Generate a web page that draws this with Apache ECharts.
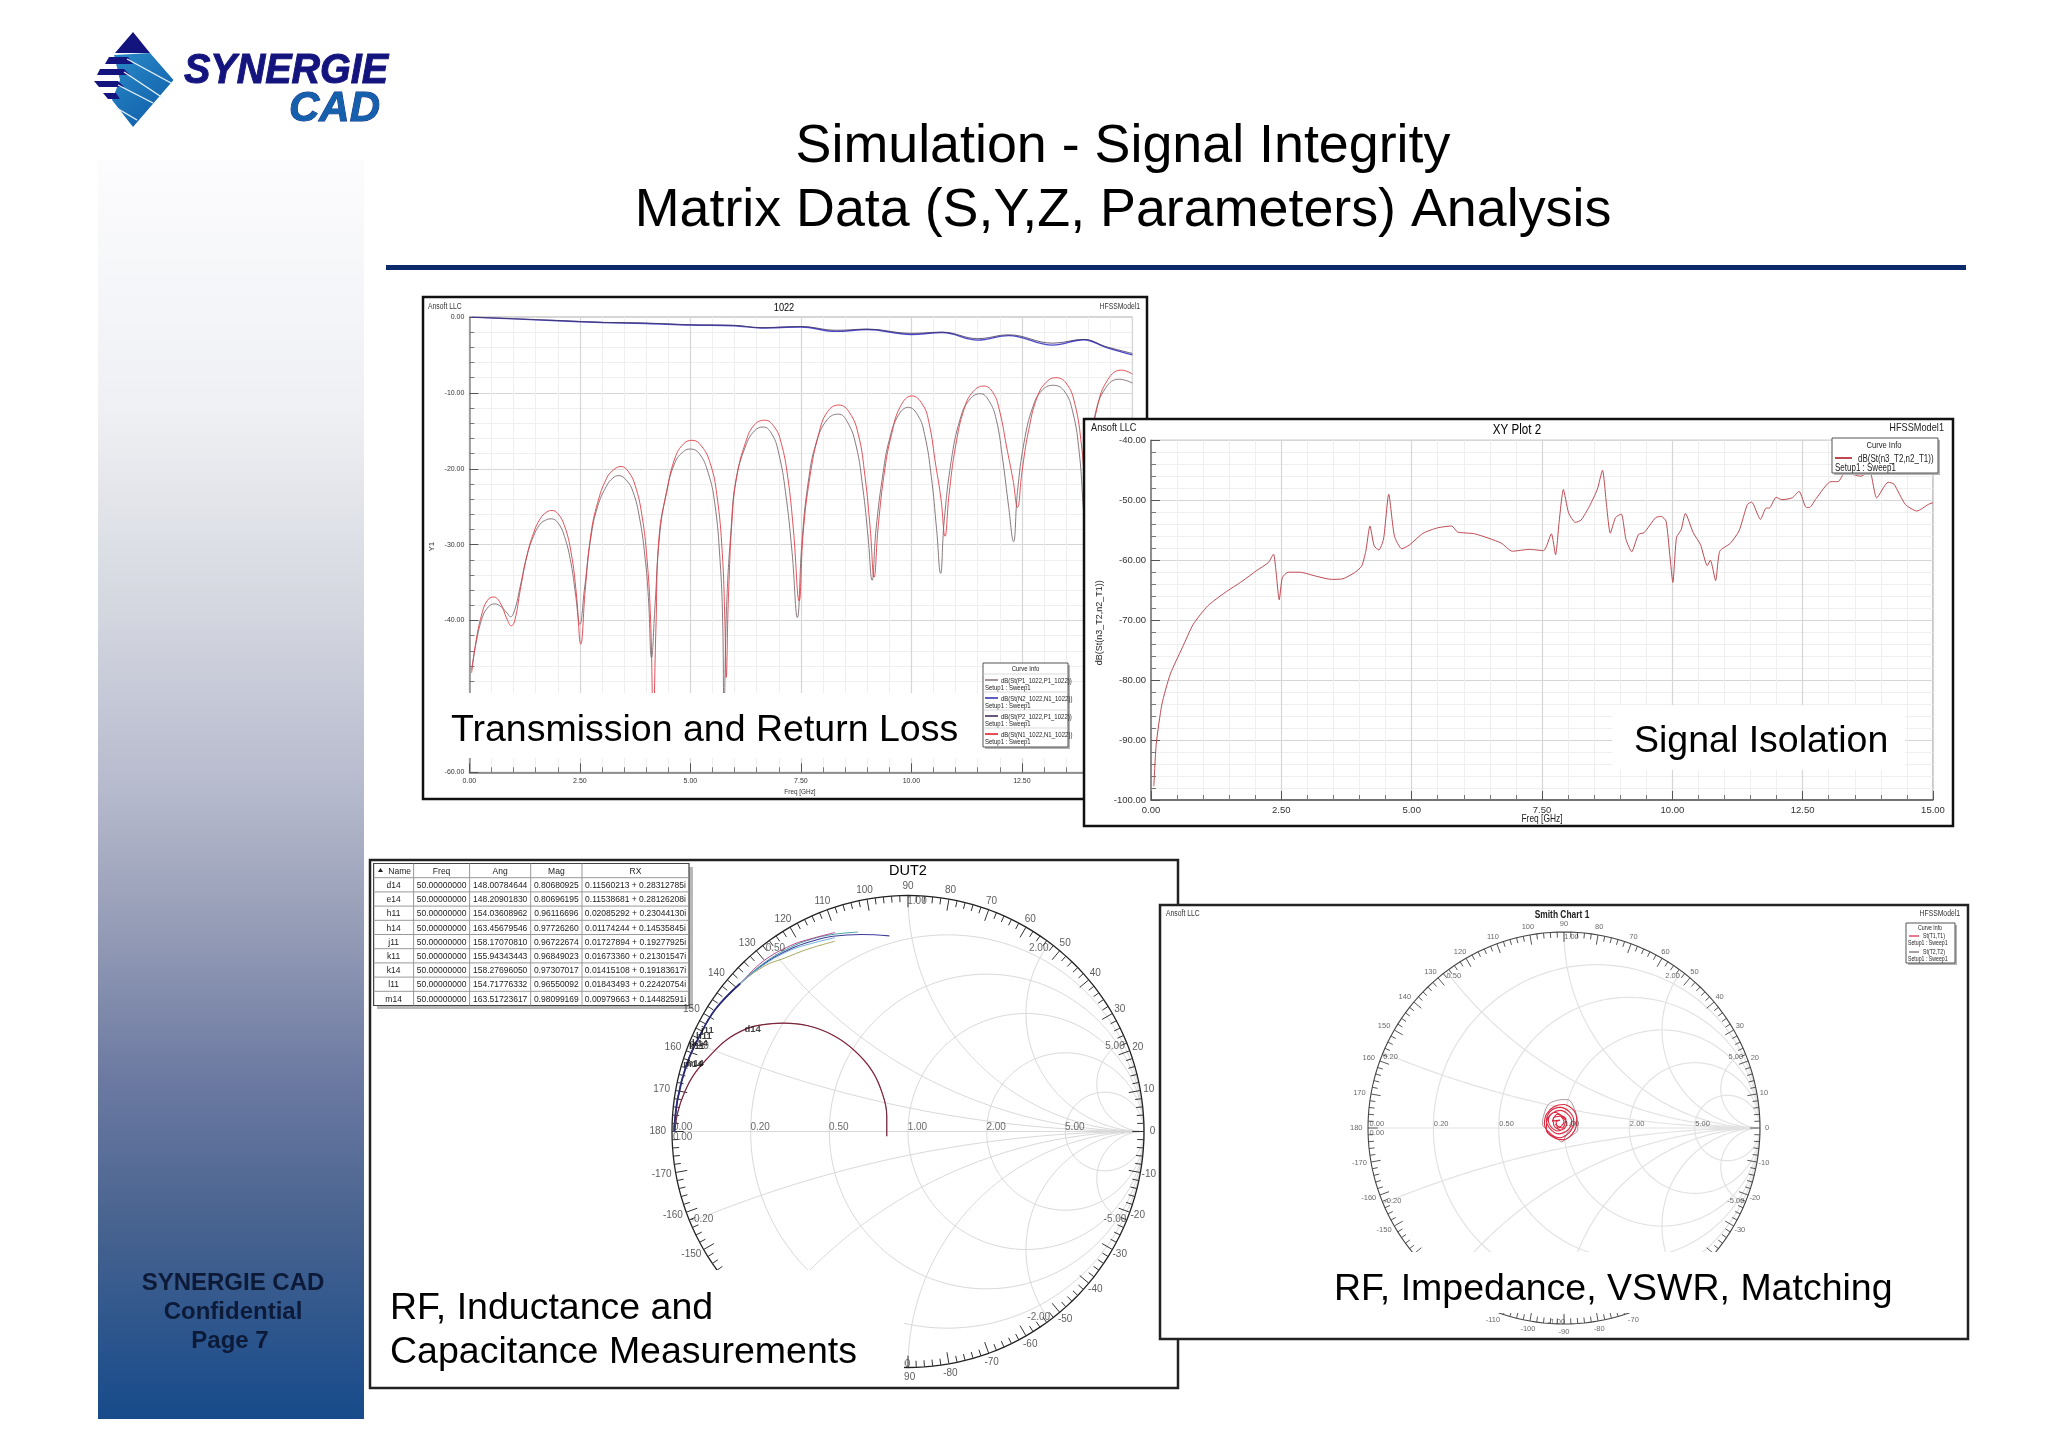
<!DOCTYPE html>
<html>
<head>
<meta charset="utf-8">
<title>Simulation - Signal Integrity</title>
<style>
  html, body { margin: 0; padding: 0; background: #fff; }
  #page { width: 2048px; height: 1448px; }
</style>
<script src="https://cdn.jsdelivr.net/npm/echarts@6/dist/echarts.min.js"></script>
</head>
<body>
<div id="page"></div>
<script>
const SANS = '"Liberation Sans", Arial, sans-serif';

// ---- plot 1: transmission and return loss, [GHz, dB]
const returnLossGrey = [[0.05,-46.5],[0.15,-43],[0.27,-40],[0.4,-38.4],[0.57,-37.8],[0.72,-38.2],[0.85,-39],[0.93,-39.5],[1.02,-38.7],[1.15,-35.5],[1.3,-31.5],[1.45,-28.9],[1.6,-27.3],[1.75,-26.7],[1.85,-26.6],[2,-27.1],[2.15,-28.9],[2.3,-32.5],[2.4,-36.5],[2.5,-40.5],[2.6,-36],[2.75,-29],[2.9,-25],[3.1,-22.3],[3.25,-21.2],[3.38,-20.9],[3.55,-21.5],[3.7,-23],[3.85,-26.5],[3.97,-31.5],[4.05,-37],[4.12,-44.9],[4.2,-38],[4.3,-29],[4.45,-23.3],[4.65,-19.2],[4.85,-17.7],[5,-17.4],[5.2,-18],[5.4,-20.5],[5.55,-24.5],[5.67,-32],[5.73,-40],[5.76,-52],[5.82,-38],[5.92,-28],[6.03,-21.5],[6.25,-17],[6.45,-15],[6.65,-14.5],[6.85,-15.5],[7,-18],[7.15,-23],[7.3,-31],[7.42,-39.6],[7.52,-30],[7.66,-22],[7.85,-16.5],[8.1,-13.5],[8.35,-12.8],[8.55,-13.8],[8.75,-17],[8.9,-22.5],[9.02,-29],[9.11,-34.7],[9.2,-28],[9.36,-20.5],[9.5,-16.2],[9.7,-13],[9.93,-11.9],[10.15,-13],[10.3,-15.5],[10.45,-21],[10.57,-28],[10.66,-33.8],[10.74,-27],[10.9,-19],[11.1,-13.5],[11.3,-11],[11.56,-10.1],[11.75,-11],[11.92,-13.5],[12.07,-19],[12.2,-25],[12.31,-29.6],[12.4,-23],[12.55,-16.5],[12.75,-11.8],[12.95,-9.7],[13.2,-9],[13.45,-9.7],[13.65,-12.5],[13.8,-18],[13.92,-26],[14,-19],[14.15,-13],[14.4,-9.3],[14.7,-8.2],[15,-8.7]];
const returnLossRed = [[0.05,-46.9],[0.15,-42.7],[0.27,-39.4],[0.4,-37.4],[0.55,-36.9],[0.7,-37.7],[0.85,-39.8],[0.95,-40.7],[1.03,-39.9],[1.15,-36],[1.3,-31.5],[1.45,-28.5],[1.6,-26.6],[1.75,-25.7],[1.87,-25.5],[2,-25.9],[2.15,-27.5],[2.3,-31],[2.42,-36.5],[2.52,-43.1],[2.62,-36],[2.75,-28.6],[2.9,-24.5],[3.1,-21.3],[3.25,-20.2],[3.43,-19.7],[3.6,-20.4],[3.75,-22.2],[3.9,-26],[4.02,-32],[4.1,-40],[4.16,-53],[4.22,-41],[4.29,-29],[4.47,-22.9],[4.65,-18.6],[4.85,-16.7],[5.04,-16.25],[5.25,-17],[5.45,-19.3],[5.6,-23.5],[5.72,-31],[5.78,-40],[5.81,-47.5],[5.86,-37],[5.95,-26],[6.05,-21],[6.25,-16.5],[6.45,-14.2],[6.69,-13.6],[6.9,-14.5],[7.05,-16.5],[7.2,-21],[7.33,-28],[7.46,-37.4],[7.55,-28.6],[7.7,-21.2],[7.9,-15.5],[8.1,-12.5],[8.36,-11.6],[8.6,-12.6],[8.8,-15.5],[8.95,-21],[9.07,-28],[9.155,-34.3],[9.25,-27.5],[9.4,-20],[9.55,-15.5],[9.75,-11.8],[10.01,-10.4],[10.25,-11.5],[10.4,-14],[10.55,-19.5],[10.67,-24],[10.76,-28.9],[10.85,-23.5],[11,-17],[11.2,-12],[11.4,-9.8],[11.64,-9.1],[11.85,-10],[12,-12.5],[12.15,-17],[12.3,-21.5],[12.4,-25.1],[12.5,-20.5],[12.65,-15],[12.85,-10.5],[13.05,-8.6],[13.26,-8],[13.5,-8.7],[13.7,-11.5],[13.85,-17],[13.97,-24.5],[14.05,-18],[14.2,-12],[14.45,-8.2],[14.75,-7],[15,-7.5]];
const transBlue = [[0.05,-0.02],[1,-0.25],[2,-0.5],[3,-0.72],[4,-0.85],[5,-1.05],[6,-1.15],[6.6,-1.45],[7.5,-1.32],[8.3,-1.9],[9,-1.65],[10,-2.3],[10.7,-2.05],[11.5,-3.05],[12.2,-2.45],[13.2,-3.7],[13.9,-3],[14.4,-4],[15,-5]];
const transDark = [[0.05,-0.02],[1,-0.22],[2,-0.46],[3,-0.7],[4,-0.8],[5,-1.02],[6,-1.1],[6.6,-1.4],[7.5,-1.25],[8.3,-1.75],[9,-1.6],[10,-2.15],[10.7,-2],[11.5,-2.85],[12.2,-2.35],[13.2,-3.45],[13.9,-2.95],[14.4,-3.9],[15,-4.8]];
const curveInfo1 = ['dB(St(P1_1022,P1_1022))', 'dB(St(N2_1022,N1_1022))', 'dB(St(P2_1022,P1_1022))', 'dB(St(N1_1022,N1_1022))'];
const curveColors1 = ['#8a7a7e', '#3434b4', '#40305a', '#e0202c'];

// ---- plot 2: signal isolation, [GHz, dB]
const isolation = [[0.055,-97.7],[0.1,-90.7],[0.21,-84],[0.37,-79],[0.6,-74.6],[0.81,-70.7],[1.09,-67.6],[1.42,-65.4],[1.75,-63.5],[2.03,-61.7],[2.25,-60.4],[2.35,-59],[2.39,-61.2],[2.46,-66.6],[2.52,-62.9],[2.63,-62],[2.85,-62],[3.18,-62.7],[3.46,-63.2],[3.68,-63.1],[3.9,-62.1],[4.04,-61],[4.12,-58.5],[4.2,-54.3],[4.28,-57.6],[4.37,-58.3],[4.46,-56.5],[4.56,-49],[4.67,-56],[4.81,-58.1],[4.95,-57.5],[5.22,-55.5],[5.5,-54.6],[5.77,-54.3],[5.88,-55.3],[6.21,-55.6],[6.71,-57.1],[6.93,-58.5],[7.26,-58.2],[7.53,-58.4],[7.68,-55.6],[7.76,-59.1],[7.83,-53.5],[7.91,-48.2],[8.01,-52.1],[8.14,-53.7],[8.25,-53.3],[8.41,-51],[8.56,-48.2],[8.66,-45],[8.74,-51],[8.81,-55.5],[8.91,-52.9],[9.02,-52.3],[9.11,-56.5],[9.22,-58.6],[9.35,-55.7],[9.46,-55.4],[9.68,-52.9],[9.79,-52.7],[9.88,-53.5],[9.95,-59],[10.01,-63.7],[10.08,-56.2],[10.17,-54.9],[10.25,-52.2],[10.4,-55.4],[10.54,-57.4],[10.67,-60.9],[10.73,-60],[10.83,-63.4],[10.91,-58.5],[11.11,-57.2],[11.28,-55.1],[11.44,-50.7],[11.52,-50.3],[11.69,-53.2],[11.8,-51.3],[11.86,-51.3],[11.99,-49.5],[12.1,-49.9],[12.3,-49.6],[12.43,-48.5],[12.57,-51.2],[12.63,-51.2],[12.76,-49.7],[13.04,-46.9],[13.18,-46.9],[13.31,-45.4],[13.62,-46],[13.78,-45],[13.92,-49.6],[14.14,-47],[14.25,-47.3],[14.47,-50.7],[14.69,-51.8],[14.91,-50.7],[15,-50.4]];

// ---- plot 3: DUT2 table
const tableHeader = ['Name', 'Freq', 'Ang', 'Mag', 'RX'];
const tableNames = ['d14', 'e14', 'h11', 'h14', 'j11', 'k11', 'k14', 'l11', 'm14'];
const tableFreq = ['50.00000000', '50.00000000', '50.00000000', '50.00000000', '50.00000000', '50.00000000', '50.00000000', '50.00000000', '50.00000000'];
const tableAng = ['148.00784644', '148.20901830', '154.03608962', '163.45679546', '158.17070810', '155.94343443', '158.27696050', '154.71776332', '163.51723617'];
const tableMag = ['0.80680925', '0.80696195', '0.96116696', '0.97726260', '0.96722674', '0.96849023', '0.97307017', '0.96550092', '0.98099169'];
const tableRx = ['0.11560213 + 0.28312785i', '0.11538681 + 0.28126208i', '0.02085292 + 0.23044130i', '0.01174244 + 0.14535845i', '0.01727894 + 0.19277925i', '0.01673360 + 0.21301547i', '0.01415108 + 0.19183617i', '0.01843493 + 0.22420754i', '0.00979663 + 0.14482591i'];

// ---- plot 3: traces, reflection coefficient [re, im]
const traceInner = [[-0.09,-0.02],[-0.09,0.066],[-0.106,0.153],[-0.151,0.255],[-0.227,0.343],[-0.318,0.408],[-0.424,0.448],[-0.53,0.459],[-0.62,0.452],[-0.688,0.434],[-0.772,0.386],[-0.847,0.313],[-0.908,0.24],[-0.946,0.168],[-0.976,0.08],[-0.988,0]];
const traceEdge = [[-0.991,0],[-0.976,0.138],[-0.938,0.284],[-0.885,0.401],[-0.817,0.517],[-0.711,0.627]];
const traceBlueTail = [[-0.605,0.714],[-0.499,0.773],[-0.408,0.806],[-0.318,0.827],[-0.197,0.835],[-0.079,0.829]];
const traceTealTail = [[-0.605,0.718],[-0.499,0.78],[-0.408,0.815],[-0.318,0.835],[-0.212,0.845]];
const traceMagentaTail = [[-0.613,0.722],[-0.499,0.787],[-0.424,0.813],[-0.31,0.843]];
const traceOliveTail = [[-0.605,0.703],[-0.53,0.732],[-0.424,0.773],[-0.31,0.806]];
const traceSkyTail = [[-0.605,0.71],[-0.499,0.768],[-0.408,0.797],[-0.31,0.821]];
const traceMarkers = [['d14',-0.658,0.434],['j11',-0.85,0.43],['h11',-0.865,0.402],['k14',-0.882,0.375],['k11',-0.895,0.36],['h14',-0.9,0.29],['m14',-0.912,0.285]];

// ---- plot 4: matching blob, reflection coefficient [re, im]
const matchRed = [[0.005,0],[-0.03,-0.015],[-0.065,0.005],[-0.08,0.04],[-0.06,0.075],[-0.02,0.09],[0.02,0.07],[0.04,0.03],[0.02,-0.01],[-0.03,-0.03],[-0.07,-0.005],[-0.09,0.04],[-0.07,0.085],[-0.02,0.105],[0.03,0.08],[0.05,0.035],[0.03,-0.02],[-0.02,-0.05],[-0.07,-0.03],[-0.1,0.02],[-0.09,0.07],[-0.05,0.11],[0,0.12],[0.05,0.09],[0.065,0.04],[0.05,-0.02],[0,-0.06],[-0.05,-0.05],[-0.09,-0.01],[-0.085,0.045],[-0.05,0.08],[-0.01,0.06],[0.015,0.02],[-0.015,-0.01],[-0.05,0.01],[-0.055,0.05],[-0.02,0.06],[0,0.03],[-0.03,0],[-0.04,0.03],[-0.02,0.04],[-0.06,0.035],[-0.035,0.07],[0.01,0.045],[-0.01,0],[-0.045,0.02]];
const matchDark = [[-0.012,-0.071],[0.03,-0.045],[0.07,-0.01],[0.07,0.03],[0.06,0.08],[0.03,0.14],[0,0.145],[-0.04,0.14],[-0.08,0.12],[-0.105,0.06],[-0.11,0.02],[-0.075,-0.02],[-0.04,-0.05],[-0.012,-0.071],[0.02,-0.02],[0.05,0.01],[0.06,0.03],[0.04,0.035],[0.03,0.01],[0.055,0.005]];

// smith chart grid
const smithCircles = [0.2, 0.5, 1, 2, 5];
const angleLabels = [0, 10, 20, 30, 40, 50, 60, 70, 80, 90, 100, 110, 120, 130, 140, 150, 160, 170, 180, -170, -160, -150, -140, -130, -120, -110, -100, -90, -80, -70, -60, -50, -40, -30, -20, -10];

// ---------- helpers for page furniture ----------
const els = [];
function text(x, y, s, size, opt) {
  opt = opt || {};
  const narrow = opt.narrow ? 0.8 : 1;
  els.push({
    type: 'text', x: x, y: y + size * 0.09, z: opt.z || 0, rotation: opt.rotation || 0, silent: true,
    scaleX: (opt.scaleX || 1) * narrow,
    style: {
      text: s, fill: opt.color || '#000', align: opt.align || 'left', verticalAlign: 'middle',
      stroke: opt.stroke || null, lineWidth: opt.stroke ? 1 : 0,
      font: (opt.style || '') + ' ' + (opt.weight || 'normal') + ' ' + size + 'px ' + SANS
    }
  });
}
function rect(x, y, w, h, fill, z, stroke, lw) {
  els.push({ type: 'rect', z: z || 0, silent: true, shape: { x: x, y: y, width: w, height: h },
    style: { fill: fill, stroke: stroke || null, lineWidth: lw || 0 } });
}
function seg(x1, y1, x2, y2, color, lw, z) {
  els.push({ type: 'line', z: z || 0, silent: true, shape: { x1: x1, y1: y1, x2: x2, y2: y2 }, style: { stroke: color, lineWidth: lw } });
}
function poly(points, fill, z) {
  els.push({ type: 'polygon', z: z || 0, silent: true, shape: { points: points }, style: { fill: fill } });
}

// logo
const logoBlue = new echarts.graphic.LinearGradient(0, 0, 1, 1, [{ offset: 0, color: '#2a8ac8' }, { offset: 1, color: '#0d5aa6' }]);
poly([[114,55],[150,53],[173.5,80],[133,127],[112,100],[120,80]], logoBlue);
poly([[133,32],[150,53],[115,53]], '#14147e');
poly([[109,57],[128,57],[133,64],[105,64]], '#14147e');
poly([[100,69],[124,69],[130,75],[97,75]], '#14147e');
poly([[94,81],[118,81],[124,87],[99,87]], '#14147e');
poly([[103,93],[116,93],[120,99],[108,99]], '#14147e');
[[127,59,171,83],[124,72,163,98],[118,85,153,103],[115,107,137,120]].forEach(l => seg(l[0], l[1], l[2], l[3], '#e8f2fa', 1.4));
text(184, 68, 'SYNERGIE', 42, { weight: 'bold', style: 'italic', color: '#14147e', stroke: '#14147e', scaleX: 0.94 });
text(289, 106, 'CAD', 42, { weight: 'bold', style: 'italic', color: '#1460ac', stroke: '#14308a' });

// sidebar
rect(98, 160, 266, 1259, new echarts.graphic.LinearGradient(0, 0, 0, 1, [
  { offset: 0, color: '#fcfcfe' }, { offset: 0.2, color: '#eef0f3' }, { offset: 0.35, color: '#d6d8e1' },
  { offset: 0.5, color: '#b6bacd' }, { offset: 0.6, color: '#989fb8' }, { offset: 0.72, color: '#6f7ca3' },
  { offset: 0.85, color: '#46628f' }, { offset: 1, color: '#174b8b' }
]));
text(233, 1281, 'SYNERGIE CAD', 24, { weight: 'bold', align: 'center', color: '#0c1a38' });
text(233, 1310, 'Confidential', 24, { weight: 'bold', align: 'center', color: '#0c1a38' });
text(230, 1339, 'Page 7', 24, { weight: 'bold', align: 'center', color: '#0c1a38' });

// heading
text(1123, 142, 'Simulation - Signal Integrity', 53.8, { align: 'center' });
text(1123, 206, 'Matrix Data (S,Y,Z, Parameters) Analysis', 53.8, { align: 'center' });
rect(386, 265, 1580, 5, '#0b2a6c');

// ---------- panel furniture ----------
// panel 1
rect(423, 297, 724, 502, '#fff', 1, '#111', 2.5);
text(428, 306, 'Ansoft LLC', 8.5, { narrow: true, z: 4, color: '#333' });
text(784, 307, '1022', 11.5, { narrow: true, align: 'center', z: 4 });
text(1140, 306, 'HFSSModel1', 8.5, { narrow: true, align: 'right', z: 4, color: '#333' });
text(432, 546, 'Y1', 8, { align: 'center', rotation: Math.PI / 2, z: 4, color: '#333' });
text(800, 791, 'Freq [GHz]', 8, { narrow: true, align: 'center', z: 4, color: '#333' });
rect(425, 693, 658, 65, '#fff', 4);
text(451, 727, 'Transmission and Return Loss', 37.5, { z: 4 });
rect(985, 665, 85, 84, '#b4b4b4', 4);
rect(983, 663, 85, 84, '#fff', 4, '#555', 1);
text(1025.5, 668, 'Curve Info', 7.5, { narrow: true, align: 'center', z: 4, color: '#222' });
curveInfo1.forEach((name, i) => {
  const y = 680 + i * 18;
  seg(983, y - 6, 1068, y - 6, '#ccc', 0.7, 4);
  seg(985, y, 998, y, curveColors1[i], 1.6, 4);
  text(1001, y, name, 7.5, { narrow: true, z: 4, color: '#222' });
  text(985, y + 7.5, 'Setup1 : Sweep1', 7.5, { narrow: true, z: 4, color: '#222' });
});

// panel 2 sits on top of panel 1
rect(1084, 419, 869, 407, '#fff', 5, '#111', 2.5);
text(1091, 427, 'Ansoft LLC', 11.5, { narrow: true, z: 8, color: '#222' });
text(1517, 429, 'XY Plot 2', 14.5, { narrow: true, align: 'center', z: 8 });
text(1944, 427, 'HFSSModel1', 11.5, { narrow: true, align: 'right', z: 8, color: '#222' });
text(1100, 622, 'dB(St(n3_T2,n2_T1))', 9, { align: 'center', rotation: Math.PI / 2, z: 8, color: '#222' });
text(1542, 818, 'Freq [GHz]', 10.5, { narrow: true, align: 'center', z: 8, color: '#222' });
rect(1612, 705, 293, 65, '#fff', 8);
text(1634, 738, 'Signal Isolation', 37.5, { z: 8 });
rect(1834, 440, 106, 35, '#b4b4b4', 8);
rect(1832, 438, 106, 35, '#fff', 8, '#555', 1);
text(1884, 445, 'Curve Info', 9.5, { narrow: true, align: 'center', z: 8, color: '#222' });
seg(1835, 458, 1852, 458, '#c0474f', 2, 8);
text(1858, 458, 'dB(St(n3_T2,n2_T1))', 10, { narrow: true, z: 8, color: '#222' });
text(1835, 467, 'Setup1 : Sweep1', 10, { narrow: true, z: 8, color: '#222' });

// panel 3
rect(370, 860, 808, 528, '#fff', 1, '#222', 2.5);
text(908, 870, 'DUT2', 14.5, { align: 'center', z: 4 });
rect(372, 1270, 532, 116, '#fff', 4);
text(390, 1305, 'RF, Inductance and', 37.5, { z: 4 });
text(390, 1349, 'Capacitance Measurements', 37.5, { z: 4 });
// data table, under the angle labels
const colX = [373.6, 413.6, 469.6, 530.7, 582, 689];
const rowH = 14.2;
const rowTop = 863.5;
const tableZ = 2.5;
rect(377, 867, 316, 142, '#b8b8b8', tableZ);
rect(colX[0], rowTop, colX[5] - colX[0], rowH * 10, '#fff', tableZ, '#444', 1.2);
colX.slice(1, 5).forEach(x => seg(x, rowTop, x, rowTop + rowH * 10, '#999', 1, tableZ));
for (let i = 1; i < 10; i++) seg(colX[0], rowTop + rowH * i, colX[5], rowTop + rowH * i, '#999', 1, tableZ);
tableHeader.forEach((h, c) => text((colX[c] + colX[c + 1]) / 2 + (c === 0 ? 6 : 0), rowTop + rowH / 2, h, 8.5, { align: 'center', z: tableZ, color: '#222' }));
poly([[378,872],[380.5,868],[383,872]], '#222', tableZ);
tableNames.forEach((nm, i) => {
  const y = rowTop + rowH * (i + 1.5);
  [nm, tableFreq[i], tableAng[i], tableMag[i], tableRx[i]].forEach((v, c) => {
    text((colX[c] + colX[c + 1]) / 2, y, v, 8.5, { align: 'center', z: tableZ, color: '#222' });
  });
});

// panel 4 sits on top of panel 3
rect(1160, 905, 808, 434, '#fff', 9, '#222', 2.5);
text(1166, 913, 'Ansoft LLC', 8.5, { narrow: true, z: 12, color: '#333' });
text(1562, 914, 'Smith Chart 1', 10.5, { narrow: true, align: 'center', weight: 'bold', z: 12, color: '#222' });
text(1960, 913, 'HFSSModel1', 8.5, { narrow: true, align: 'right', z: 12, color: '#333' });
rect(1162, 1252, 804, 61, '#fff', 12);
text(1334, 1286, 'RF, Impedance, VSWR, Matching', 37.5, { z: 12 });
rect(1908, 925, 49, 40, '#b4b4b4', 12);
rect(1906, 923, 49, 40, '#fff', 12, '#555', 1);
text(1930, 927.5, 'Curve Info', 6.5, { narrow: true, align: 'center', z: 12, color: '#222' });
seg(1909, 936, 1919, 936, '#d8203a', 1.2, 12);
text(1923, 936, 'St(T1,T1)', 6.5, { narrow: true, z: 12, color: '#222' });
text(1908, 943, 'Setup1 : Sweep1', 6.5, { narrow: true, z: 12, color: '#222' });
seg(1909, 952, 1919, 952, '#6d6068', 1.2, 12);
text(1923, 952, 'St(T2,T2)', 6.5, { narrow: true, z: 12, color: '#222' });
text(1908, 959, 'Setup1 : Sweep1', 6.5, { narrow: true, z: 12, color: '#222' });

// ---------- cartesian plots ----------
function xyAxis(gridIndex, z, min, max, interval, labelSize, lineColor) {
  return {
    type: 'value', gridIndex: gridIndex, min: min, max: max, interval: interval, z: z,
    axisLine: { show: true, onZero: false, lineStyle: { color: lineColor, width: 1.5 } },
    axisTick: { show: true, inside: true, length: 9, lineStyle: { color: '#555' } },
    minorTick: { show: true, splitNumber: 5, length: 5, lineStyle: { color: '#777' } },
    axisLabel: { fontSize: labelSize, fontFamily: SANS, color: '#333', margin: 5, formatter: v => v.toFixed(2) },
    splitLine: { show: true, lineStyle: { color: '#d6d6d6', width: 1.2 } },
    minorSplitLine: { show: true, lineStyle: { color: '#efefef' } }
  };
}
function curve(name, xi, yi, data, color, width, z, smooth) {
  return { name: name, type: 'line', xAxisIndex: xi, yAxisIndex: yi, data: data, showSymbol: false, smooth: smooth,
    lineStyle: { color: color, width: width }, z: z, silent: true, animation: false };
}

// ---------- smith charts, hidden cartesian axes on the reflection coefficient ----------
function gamma(r, x) {
  const d = (r + 1) * (r + 1) + x * x;
  return [(r * r + x * x - 1) / d, 2 * x / d];
}
function smithGridData() {
  const pts = [];
  const gap = () => pts.push([NaN, NaN]);
  smithCircles.forEach(r => {
    for (let a = -89.5; a <= 89.5; a += 1) pts.push(gamma(r, Math.tan(a * Math.PI / 180) * (r + 1)));
    gap();
  });
  smithCircles.forEach(x => {
    [x, -x].forEach(sx => {
      for (let a = 0; a <= 89.5; a += 1) pts.push(gamma(Math.tan(a * Math.PI / 180) * Math.abs(sx) * 1.5, sx));
      gap();
    });
  });
  pts.push([-1, 0], [1, 0]);
  return pts;
}
function ringData() {
  const pts = [];
  for (let a = 0; a <= 360; a += 2) pts.push([Math.cos(a * Math.PI / 180), Math.sin(a * Math.PI / 180)]);
  return pts;
}
function ringTicks() {
  const pts = [];
  for (let a = 0; a < 360; a += 2) {
    const c = Math.cos(a * Math.PI / 180), s = Math.sin(a * Math.PI / 180);
    const len = a % 10 === 0 ? 0.05 : 0.028;
    pts.push([c, s], [c * (1 - len), s * (1 - len)], [NaN, NaN]);
  }
  return pts;
}
function labelSeries(name, xi, yi, items, size, z, color, weight) {
  return { name: name, type: 'scatter', xAxisIndex: xi, yAxisIndex: yi, symbolSize: 0, z: z, silent: true, animation: false, clip: false,
    data: items.map(d => ({ name: d[0], value: [d[1], d[2]] })),
    label: { show: true, position: 'inside', formatter: p => p.name, fontSize: size, fontFamily: SANS, color: color, fontWeight: weight || 'normal' } };
}
function smithLabels() {
  const list = [];
  list.push(['0.00', -0.955, 0.019], ['0.00', -0.955, -0.024]);
  smithCircles.forEach(r => {
    list.push([r.toFixed(2), (r - 1) / (r + 1) + 0.04, 0.019]);
    [r, -r].forEach(x => {
      const g = gamma(0, x);
      let du = r > 1 ? -0.046 : (x < 0 ? 0.05 : 0.038);
      if (x === -1) du = -0.038;
      list.push([x.toFixed(2), g[0] + du, g[1] + (x > 0 ? -0.023 : 0.013)]);
    });
  });
  return list;
}
function angleItems() {
  return angleLabels.map(a => {
    const c = Math.cos(a * Math.PI / 180), s = Math.sin(a * Math.PI / 180);
    return [String(a), (c >= 0 ? 1.036 : 1.06) * c, 1.04 * s];
  });
}
function smithAxis(gridIndex) {
  return { type: 'value', gridIndex: gridIndex, min: -1.2, max: 1.2, show: false };
}

const series = [
  curve('dB(St(P1_1022,P1_1022))', 0, 0, returnLossGrey, '#8a7a7e', 1, 3, 0.45),
  curve('dB(St(N1_1022,N1_1022))', 0, 0, returnLossRed, '#e0404a', 0.9, 3, 0.45),
  curve('dB(St(N2_1022,N1_1022))', 0, 0, transBlue, '#4a4ac8', 1.4, 3, 0.4),
  curve('dB(St(P2_1022,P1_1022))', 0, 0, transDark, '#40305a', 0.8, 3, 0.4),
  curve('dB(St(n3_T2,n2_T1))', 1, 1, isolation, '#bd4a52', 1, 7, 0.2),

  curve('grid3', 2, 2, smithGridData(), '#d9d9d9', 1, 2, false),
  curve('ring3', 2, 2, ringData(), '#222', 1.3, 3, false),
  curve('ticks3', 2, 2, ringTicks(), '#333', 1, 3, false),
  curve('d14', 2, 2, traceInner, '#b03048', 1.2, 3, 0.4),
  curve('e14', 2, 2, traceInner, '#2a2030', 0.5, 3, 0.4),
  curve('h11', 2, 2, traceEdge.concat(traceBlueTail), '#3c3c9c', 1.1, 3, 0.4),
  curve('k11', 2, 2, traceEdge.concat(traceTealTail), '#4aa0a8', 1, 3, 0.4),
  curve('l11', 2, 2, traceEdge.concat(traceMagentaTail), '#b04a8a', 1, 3, 0.4),
  curve('j11', 2, 2, traceEdge.concat(traceOliveTail), '#a8a860', 1, 3, 0.4),
  curve('k14', 2, 2, traceEdge.concat(traceSkyTail), '#70b0d8', 1, 3, 0.4),
  curve('m14', 2, 2, traceEdge, '#2a2a78', 1.8, 3, 0.4),
  labelSeries('angles3', 2, 2, angleItems(), 10, 3, '#333'),
  labelSeries('values3', 2, 2, smithLabels(), 10, 3, '#444'),
  labelSeries('markers3', 2, 2, traceMarkers, 9.5, 3, '#111', 'bold'),

  curve('grid4', 3, 3, smithGridData(), '#e2e2e2', 1.2, 10, false),
  curve('ring4', 3, 3, ringData(), '#444', 1.1, 10, false),
  curve('ticks4', 3, 3, ringTicks(), '#444', 0.9, 10, false),
  curve('St(T2,T2)', 3, 3, matchDark, '#9a8088', 0.8, 11, 0.3),
  curve('St(T1,T1)', 3, 3, matchRed, '#dc2840', 1.1, 11, 0.3),
  labelSeries('angles4', 3, 3, angleItems(), 7.5, 11, '#444'),
  labelSeries('values4', 3, 3, smithLabels(), 7.5, 11, '#444')
];

const option = {
  backgroundColor: '#fff',
  animation: false,
  grid: [
    { left: 469.4, top: 317, width: 663, height: 455.3, show: true, borderColor: '#aaa', borderWidth: 1, z: 2 },
    { left: 1151, top: 440.3, width: 782, height: 359.7, show: true, borderColor: '#888', borderWidth: 1, z: 6 },
    { left: 624.8, top: 848.3, width: 566.4, height: 566.4 },
    { left: 1328.8, top: 892.8, width: 470.4, height: 470.4 }
  ],
  xAxis: [
    xyAxis(0, 2, 0, 15, 2.5, 7, '#777'),
    xyAxis(1, 6, 0, 15, 2.5, 9.5, '#555'),
    smithAxis(2),
    smithAxis(3)
  ],
  yAxis: [
    xyAxis(0, 2, -60, 0, 10, 7, '#888'),
    xyAxis(1, 6, -100, -40, 10, 9.5, '#777'),
    smithAxis(2),
    smithAxis(3)
  ],
  series: series,
  graphic: { elements: els }
};

const chart = echarts.init(document.getElementById('page'), null, { renderer: 'canvas', width: 2048, height: 1448 });
chart.setOption(option);
</script>
</body>
</html>
